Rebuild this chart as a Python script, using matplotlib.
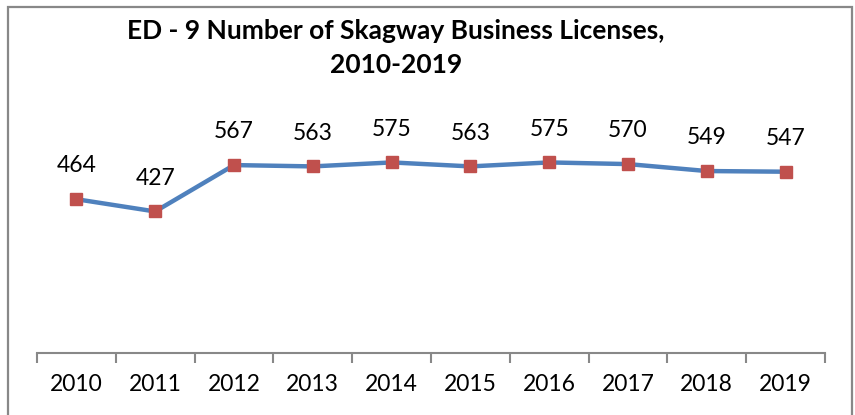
import matplotlib.pyplot as plt
from matplotlib.patches import Rectangle

years = ['2010', '2011', '2012', '2013', '2014', '2015', '2016', '2017', '2018', '2019']
licenses = [464, 427, 567, 563, 575, 563, 575, 570, 549, 547]

plt.rcParams['font.family'] = ['Lato', 'DejaVu Sans']

fig = plt.figure(figsize=(8.55, 4.15), dpi=100)
ax = fig.add_axes([37 / 855, 62 / 415, 788 / 855, 232 / 415])

x = range(len(years))
ax.plot(x, licenses, color='#4F81BD', linewidth=3.2, marker='s', markersize=9,
        markerfacecolor='#C0504D', markeredgecolor='#C0504D', zorder=3)
for i, v in zip(x, licenses):
    ax.annotate(str(v), (i, v), xytext=(0, 24), textcoords='offset points',
                ha='center', va='center', fontsize=16.5)

ax.set_xlim(-0.5, len(years) - 0.5)
ax.set_ylim(0, 700)
ax.set_xticks([i - 0.5 for i in range(len(years) + 1)])
ax.set_xticklabels([])
ax.set_xticks(list(x), minor=True)
ax.set_xticklabels(years, minor=True, fontsize=16.5)
ax.tick_params(axis='x', which='major', length=7, width=1.5, color='#888888', direction='out')
ax.tick_params(axis='x', which='minor', length=0, pad=15)
ax.set_yticks([])
for side in ['left', 'right', 'top']:
    ax.spines[side].set_visible(False)
ax.spines['bottom'].set_color('#888888')
ax.spines['bottom'].set_linewidth(1.5)

fig.text(396 / 855, 1 - 31 / 415, 'ED - 9 Number of Skagway Business Licenses,',
         ha='center', va='center', fontsize=19, fontweight='bold')
fig.text(396 / 855, 1 - 65 / 415, '2010-2019',
         ha='center', va='center', fontsize=19, fontweight='bold')

fig.patches.append(Rectangle((8 / 855, -0.05), 844 / 855, 1.05 - 7 / 415,
                             transform=fig.transFigure, fill=False,
                             edgecolor='#888888', linewidth=1.6))

fig.savefig('out.png', dpi=100)
